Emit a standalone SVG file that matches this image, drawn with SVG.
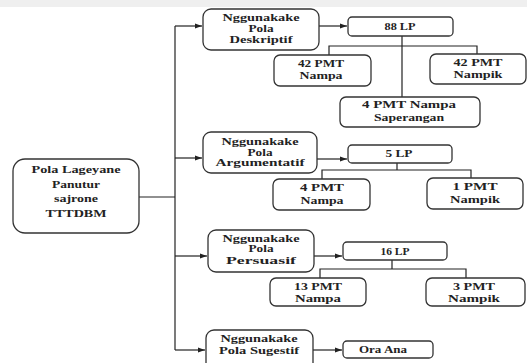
<svg xmlns="http://www.w3.org/2000/svg" width="527" height="363" viewBox="0 0 527 363">
<style>
.bx{fill:#fff;stroke:#333;stroke-width:1.3}
.t{font-family:"Liberation Serif","Times New Roman",serif;font-weight:bold;font-size:10px;fill:#222;text-anchor:middle}
.c{fill:none;stroke:#222;stroke-width:1.2}
</style>
<defs>
<marker id="ah" markerWidth="8" markerHeight="6" refX="7" refY="3" orient="auto" markerUnits="userSpaceOnUse">
<path d="M0,0.5 L7,3 L0,5.5 Z" fill="#222"/>
</marker>
</defs>
<rect x="0" y="0" width="527" height="363" fill="#fff"/>
<rect x="0" y="0" width="527" height="7" fill="#efefef"/>

<g id="connectors">
<path class="c" d="M139,197 H175"/>
<path class="c" d="M175,26 V350"/>
<path class="c" d="M175,26 H202" marker-end="url(#ah)"/>
<path class="c" d="M175,158 H202" marker-end="url(#ah)"/>
<path class="c" d="M175,256 H207" marker-end="url(#ah)"/>
<path class="c" d="M175,350 H205" marker-end="url(#ah)"/>
<path class="c" d="M319,26 H347" marker-end="url(#ah)"/>
<path class="c" d="M402,36 V97 M329,55 V46 H477 V54"/>
<path class="c" d="M317,159 H347" marker-end="url(#ah)"/>
<path class="c" d="M397,163 V170 M322,179 V170 H471 V178"/>
<path class="c" d="M314,256 H342" marker-end="url(#ah)"/>
<path class="c" d="M392,260 V269 M320,278 V269 H466 V278"/>
<path class="c" d="M313,350 H342" marker-end="url(#ah)"/>
</g>

<g id="root">
<rect class="bx" x="13" y="159" width="126" height="74" rx="12"/>
<text class="t" x="76" y="172.5" textLength="89" lengthAdjust="spacingAndGlyphs">Pola Lageyane</text>
<text class="t" x="76" y="187.5" textLength="48" lengthAdjust="spacingAndGlyphs">Panutur</text>
<text class="t" x="76" y="201.5" textLength="44" lengthAdjust="spacingAndGlyphs">sajrone</text>
<text class="t" x="76" y="216.5" textLength="61" lengthAdjust="spacingAndGlyphs">TTTDBM</text>
</g>

<g id="deskriptif">
<rect class="bx" x="203" y="9" width="116" height="41" rx="8"/>
<text class="t" x="261" y="20.5" textLength="77" lengthAdjust="spacingAndGlyphs">Nggunakake</text>
<text class="t" x="261" y="31.5" textLength="25" lengthAdjust="spacingAndGlyphs">Pola</text>
<text class="t" x="261" y="42.5" textLength="63" lengthAdjust="spacingAndGlyphs">Deskriptif</text>
</g>

<g id="lp88">
<rect class="bx" x="348" y="17" width="105" height="19" rx="4"/>
<text class="t" x="400" y="29.5" textLength="31" lengthAdjust="spacingAndGlyphs">88 LP</text>
</g>
<g id="d-nampa">
<rect class="bx" x="274" y="55" width="97" height="31" rx="6"/>
<text class="t" x="321" y="66.5" textLength="46" lengthAdjust="spacingAndGlyphs">42 PMT</text>
<text class="t" x="321" y="78.5" textLength="43" lengthAdjust="spacingAndGlyphs">Nampa</text>
</g>
<g id="d-nampik">
<rect class="bx" x="430" y="54" width="96" height="30" rx="6"/>
<text class="t" x="478" y="65.5" textLength="49" lengthAdjust="spacingAndGlyphs">42 PMT</text>
<text class="t" x="478" y="77.5" textLength="49" lengthAdjust="spacingAndGlyphs">Nampik</text>
</g>
<g id="d-saperangan">
<rect class="bx" x="340" y="97" width="140" height="30" rx="6"/>
<text class="t" x="409" y="107.5" textLength="94" lengthAdjust="spacingAndGlyphs">4 PMT Nampa</text>
<text class="t" x="409" y="120.5" textLength="70" lengthAdjust="spacingAndGlyphs">Saperangan</text>
</g>

<g id="argumentatif">
<rect class="bx" x="203" y="132" width="114" height="41" rx="8"/>
<text class="t" x="260" y="145" textLength="77" lengthAdjust="spacingAndGlyphs">Nggunakake</text>
<text class="t" x="260" y="155.5" textLength="25" lengthAdjust="spacingAndGlyphs">Pola</text>
<text class="t" x="260" y="166" textLength="89" lengthAdjust="spacingAndGlyphs">Argumentatif</text>
</g>
<g id="lp5">
<rect class="bx" x="348" y="145" width="104" height="18" rx="4"/>
<text class="t" x="399" y="156.5" textLength="27" lengthAdjust="spacingAndGlyphs">5 LP</text>
</g>
<g id="a-nampa">
<rect class="bx" x="273" y="179" width="97" height="31" rx="6"/>
<text class="t" x="322" y="190.5" textLength="44" lengthAdjust="spacingAndGlyphs">4 PMT</text>
<text class="t" x="322" y="203.5" textLength="43" lengthAdjust="spacingAndGlyphs">Nampa</text>
</g>
<g id="a-nampik">
<rect class="bx" x="427" y="178" width="96" height="31" rx="6"/>
<text class="t" x="475" y="189.5" textLength="45" lengthAdjust="spacingAndGlyphs">1 PMT</text>
<text class="t" x="475" y="202.5" textLength="50" lengthAdjust="spacingAndGlyphs">Nampik</text>
</g>

<g id="persuasif">
<rect class="bx" x="208" y="230" width="106" height="42" rx="8"/>
<text class="t" x="261" y="241.5" textLength="77" lengthAdjust="spacingAndGlyphs">Nggunakake</text>
<text class="t" x="261" y="252" textLength="25" lengthAdjust="spacingAndGlyphs">Pola</text>
<text class="t" x="261" y="263.5" textLength="70" lengthAdjust="spacingAndGlyphs">Persuasif</text>
</g>
<g id="lp16">
<rect class="bx" x="343" y="242" width="104" height="18" rx="4"/>
<text class="t" x="395" y="254.5" textLength="29" lengthAdjust="spacingAndGlyphs">16 LP</text>
</g>
<g id="p-nampa">
<rect class="bx" x="270" y="278" width="96" height="28" rx="6"/>
<text class="t" x="318" y="289.5" textLength="48" lengthAdjust="spacingAndGlyphs">13 PMT</text>
<text class="t" x="318" y="301.5" textLength="46" lengthAdjust="spacingAndGlyphs">Nampa</text>
</g>
<g id="p-nampik">
<rect class="bx" x="426" y="278" width="99" height="28" rx="6"/>
<text class="t" x="474" y="289.5" textLength="42" lengthAdjust="spacingAndGlyphs">3 PMT</text>
<text class="t" x="474" y="301.5" textLength="52" lengthAdjust="spacingAndGlyphs">Nampik</text>
</g>

<g id="sugestif">
<rect class="bx" x="206" y="330" width="107" height="42" rx="8"/>
<text class="t" x="259" y="341.5" textLength="77" lengthAdjust="spacingAndGlyphs">Nggunakake</text>
<text class="t" x="259" y="353.5" textLength="80" lengthAdjust="spacingAndGlyphs">Pola Sugestif</text>
</g>
<g id="ora-ana">
<rect class="bx" x="343" y="341" width="90" height="17" rx="4"/>
<text class="t" x="383" y="353" textLength="48" lengthAdjust="spacingAndGlyphs">Ora Ana</text>
</g>
</svg>
